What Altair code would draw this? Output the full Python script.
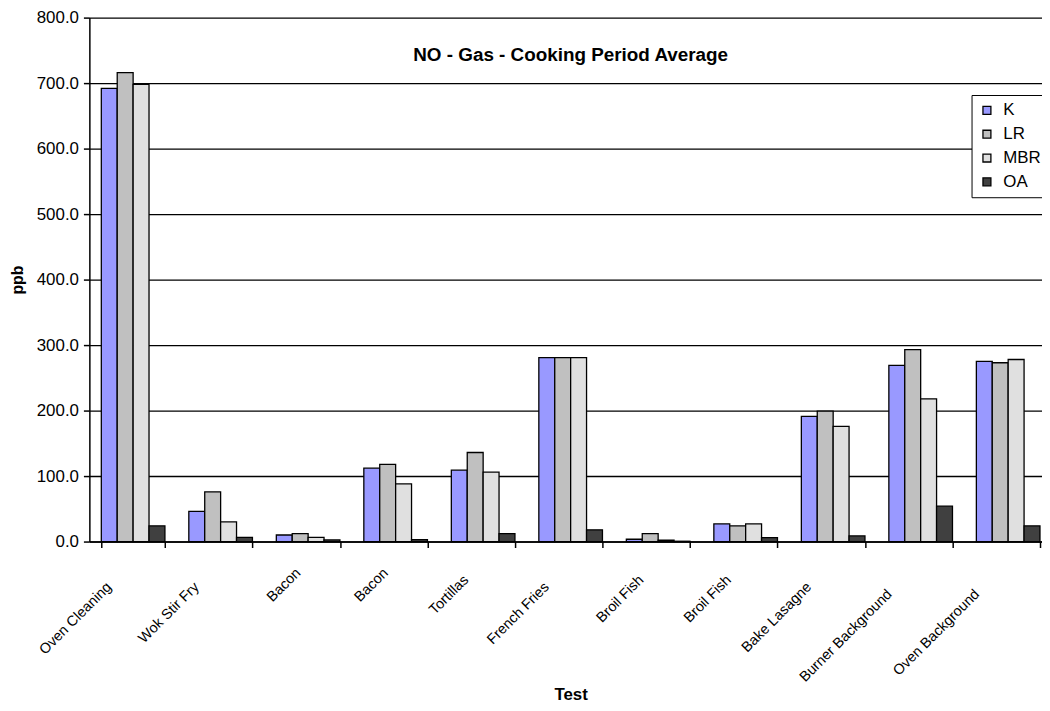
import altair as alt
import pandas as pd

tests = ["Oven Cleaning", "Wok Stir Fry", "Bacon", "Bacon", "Tortillas", "French Fries",
         "Broil Fish", "Broil Fish", "Bake Lasagne", "Burner Background", "Oven Background"]
series = ["K", "LR", "MBR", "OA"]
k_vals = [692, 46, 10, 112, 109, 281, 3.5, 27, 191, 269, 275]
lr_vals = [716, 76, 12, 118, 136, 281, 12, 24, 199, 293, 273]
mbr_vals = [698, 30, 6.5, 88, 106, 281, 2, 27, 176, 218, 278]
oa_vals = [24, 6.5, 2.5, 3, 12, 18, 0.5, 6, 8.6, 54, 24]
colors = ["#9999FF", "#C0C0C0", "#E0E0E0", "#404040"]
y_ticks = [0, 100, 200, 300, 400, 500, 600, 700, 800]

rows = []
for i, t in enumerate(tests):
    for s, vals in zip(series, [k_vals, lr_vals, mbr_vals, oa_vals]):
        rows.append({"idx": i, "Test": t, "Series": s, "ppb": vals[i]})
df = pd.DataFrame(rows)

# trailing blank glyphs (not trimmed by Vega) push longer rotated labels
# further from the axis, the way the original's labels sit
BLANK = "\u2800"
shown = [t + BLANK * round(0.24 * len(t)) for t in tests]
label_expr = "[" + ",".join("'" + t + "'" for t in shown) + "][datum.value]"

FONT = "Liberation Sans"

chart = alt.Chart(df).mark_bar(stroke="black", strokeWidth=1.3).encode(
    x=alt.X(
        "idx:O",
        title="Test",
        scale=alt.Scale(paddingInner=0.273, paddingOuter=0.1365),
        axis=alt.Axis(
            labelExpr=label_expr,
            labelAngle=315,
            labelAlign="right",
            labelBaseline="middle",
            labelOffset=-3,
            labelPadding=16,
            labelFont=FONT,
            labelFontSize=14.5,
            labelColor="black",
            tickBand="extent",
            tickSize=6,
            tickColor="black",
            tickWidth=1.5,
            domainColor="black",
            domainWidth=1.5,
            titleFont=FONT,
            titleFontSize=17,
            titleFontWeight="bold",
            titleColor="black",
            titleY=154,
            titleBaseline="middle",
        ),
    ),
    xOffset=alt.XOffset("Series:N", sort=series,
                        scale=alt.Scale(paddingInner=0, paddingOuter=0)),
    y=alt.Y(
        "ppb:Q",
        title="ppb",
        scale=alt.Scale(domain=[0, 800]),
        axis=alt.Axis(
            values=y_ticks,
            format=".1f",
            grid=True,
            gridColor="black",
            gridWidth=1.4,
            tickSize=6,
            tickColor="black",
            tickWidth=1.5,
            domainColor="black",
            domainWidth=1.5,
            labelFont=FONT,
            labelFontSize=17,
            labelColor="black",
            labelPadding=5,
            titleFont=FONT,
            titleFontSize=16,
            titleFontWeight="bold",
            titleColor="black",
            titleX=-72,
            titleY=264,
            titleAngle=270,
            titleAlign="center",
            titleBaseline="middle",
        ),
    ),
    color=alt.Color(
        "Series:N",
        sort=series,
        scale=alt.Scale(domain=series, range=colors),
        legend=alt.Legend(
            title=None,
            orient="none",
            legendX=889,
            legendY=78,
            fillColor="white",
            strokeColor="black",
            padding=7,
            symbolType="square",
            symbolSize=64,
            symbolStrokeColor="black",
            symbolStrokeWidth=1.3,
            labelFont=FONT,
            labelFontSize=17,
            labelColor="black",
            labelOffset=8,
            rowPadding=6,
        ),
    ),
).properties(
    width=970,
    height=528,
    title=alt.TitleParams(
        text="NO - Gas - Cooking Period Average",
        font=FONT,
        fontSize=19,
        fontWeight="bold",
        color="black",
        anchor="middle",
        frame="group",
        baseline="alphabetic",
        offset=-72,
    ),
    autosize=alt.AutoSizeParams(type="none"),
    padding={"left": 82, "top": 7, "right": -10, "bottom": 160},
).configure_view(stroke=None)

chart.save("out.html", embed_options={"renderer": "svg", "actions": False})
